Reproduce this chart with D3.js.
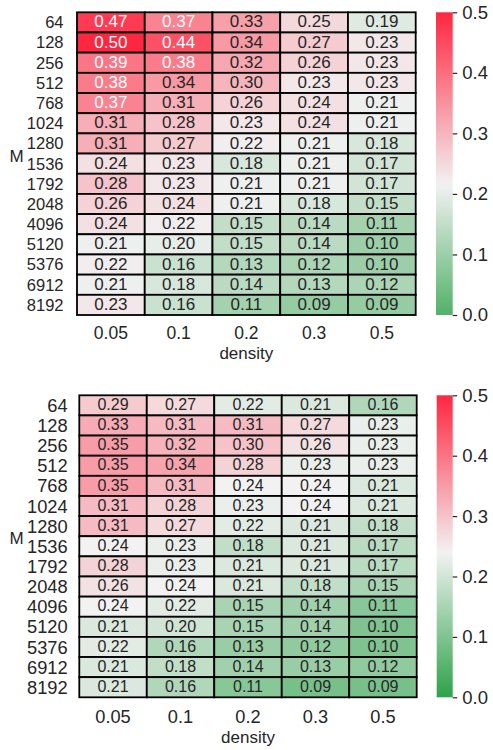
<!DOCTYPE html>
<html>
<head>
<meta charset="utf-8">
<script src="https://cdn.jsdelivr.net/npm/d3@7"></script>
<style>
  html, body { margin: 0; padding: 0; background: #ffffff; }
  svg { display: block; font-family: "Liberation Sans", Arial, Helvetica, sans-serif; }
</style>
</head>
<body>
<svg id="chart" width="493" height="750"></svg>
<script>
// Column and row categories shared by both heatmaps
const densities = ["0.05", "0.1", "0.2", "0.3", "0.5"];
const mValues = ["64", "128", "256", "512", "768", "1024", "1280", "1536",
                 "1792", "2048", "4096", "5120", "5376", "6912", "8192"];

// Upper heatmap values (rows follow mValues, columns follow densities)
const upperValues = [
  [0.47, 0.37, 0.33, 0.25, 0.19],
  [0.50, 0.44, 0.34, 0.27, 0.23],
  [0.39, 0.38, 0.32, 0.26, 0.23],
  [0.38, 0.34, 0.30, 0.23, 0.23],
  [0.37, 0.31, 0.26, 0.24, 0.21],
  [0.31, 0.28, 0.23, 0.24, 0.21],
  [0.31, 0.27, 0.22, 0.21, 0.18],
  [0.24, 0.23, 0.18, 0.21, 0.17],
  [0.28, 0.23, 0.21, 0.21, 0.17],
  [0.26, 0.24, 0.21, 0.18, 0.15],
  [0.24, 0.22, 0.15, 0.14, 0.11],
  [0.21, 0.20, 0.15, 0.14, 0.10],
  [0.22, 0.16, 0.13, 0.12, 0.10],
  [0.21, 0.18, 0.14, 0.13, 0.12],
  [0.23, 0.16, 0.11, 0.09, 0.09]
];

// Lower heatmap values
const lowerValues = [
  [0.29, 0.27, 0.22, 0.21, 0.16],
  [0.33, 0.31, 0.31, 0.27, 0.23],
  [0.35, 0.32, 0.30, 0.26, 0.23],
  [0.35, 0.34, 0.28, 0.23, 0.23],
  [0.35, 0.31, 0.24, 0.24, 0.21],
  [0.31, 0.28, 0.23, 0.24, 0.21],
  [0.31, 0.27, 0.22, 0.21, 0.18],
  [0.24, 0.23, 0.18, 0.21, 0.17],
  [0.28, 0.23, 0.21, 0.21, 0.17],
  [0.26, 0.24, 0.21, 0.18, 0.15],
  [0.24, 0.22, 0.15, 0.14, 0.11],
  [0.21, 0.20, 0.15, 0.14, 0.10],
  [0.22, 0.16, 0.13, 0.12, 0.10],
  [0.21, 0.18, 0.14, 0.13, 0.12],
  [0.21, 0.16, 0.11, 0.09, 0.09]
];

// Colour bar ticks
const colorbarTicks = [0.0, 0.1, 0.2, 0.3, 0.4, 0.5];

const vmin = 0.0, vmax = 0.5;
const textDark = "#262626";

// Diverging base palette: green -> light grey -> red, linear in RGB
const basePalette = d3.scaleLinear()
  .domain([0, 0.5, 1])
  .range(["rgb(30,155,60)", "rgb(242,242,242)", "rgb(255,38,64)"])
  .interpolate(d3.interpolateRgb)
  .clamp(true);

// Re-centre the palette around `center`, keeping the value range [vmin, vmax]
function makeColor(center) {
  const vrange = Math.max(vmax - center, center - vmin);
  const norm = d3.scaleLinear().domain([center - vrange, center + vrange]).range([0, 1]);
  return v => basePalette(norm(v));
}

function relLum(c) {
  const rgb = d3.rgb(c);
  const f = x => { x /= 255; return x <= 0.03928 ? x / 12.92 : Math.pow((x + 0.055) / 1.055, 2.4); };
  return 0.2126 * f(rgb.r) + 0.7152 * f(rgb.g) + 0.0722 * f(rgb.b);
}

const svg = d3.select("#chart");
const defs = svg.append("defs");

const panels = [
  { values: upperValues, center: 0.215,
    x0: 77, x1: 415.7, y0: 12.3, y1: 315,
    cb0: 436, cb1: 452.7,
    annotSize: 17, yTickSize: 16.5, xTickSize: 17.5, labelSize: 17, cbSize: 18.5,
    yTickGap: 13.5, xTickOffset: 24.3, xLabelOffset: 44, mLabelY: 156 },
  { values: lowerValues, center: 0.24,
    x0: 79.3, x1: 416.7, y0: 395.3, y1: 697.3,
    cb0: 436.7, cb1: 452.7,
    annotSize: 16, yTickSize: 18.3, xTickSize: 18.2, labelSize: 17, cbSize: 18.5,
    yTickGap: 11.6, xTickOffset: 26, xLabelOffset: 46, mLabelY: 538 }
];

panels.forEach((p, pi) => {
  const color = makeColor(p.center);
  const g = svg.append("g");

  const x = d3.scaleBand().domain(densities).range([p.x0, p.x1]);
  const y = d3.scaleBand().domain(mValues).range([p.y0, p.y1]);

  const cells = [];
  p.values.forEach((row, ri) => row.forEach((v, ci) => {
    cells.push({ m: mValues[ri], d: densities[ci], v: v });
  }));

  // cells
  g.selectAll("rect.cell").data(cells).join("rect")
    .attr("class", "cell")
    .attr("x", d => x(d.d))
    .attr("y", d => y(d.m))
    .attr("width", x.bandwidth())
    .attr("height", y.bandwidth())
    .attr("fill", d => color(d.v))
    .attr("stroke", "#000")
    .attr("stroke-width", 1.8);

  // annotations
  g.selectAll("text.annot").data(cells).join("text")
    .attr("class", "annot")
    .attr("x", d => x(d.d) + x.bandwidth() / 2)
    .attr("y", d => y(d.m) + y.bandwidth() / 2 + p.annotSize * 0.358 - 1)
    .attr("text-anchor", "middle")
    .attr("font-size", p.annotSize)
    .attr("fill", d => relLum(color(d.v)) > 0.408 ? textDark : "#ffffff")
    .text(d => d3.format(".2f")(d.v));

  // y tick labels
  g.selectAll("text.ytick").data(mValues).join("text")
    .attr("class", "ytick")
    .attr("x", p.x0 - p.yTickGap)
    .attr("y", d => y(d) + y.bandwidth() / 2 + p.yTickSize * 0.358)
    .attr("text-anchor", "end")
    .attr("font-size", p.yTickSize)
    .attr("fill", textDark)
    .text(d => d);

  // x tick labels
  g.selectAll("text.xtick").data(densities).join("text")
    .attr("class", "xtick")
    .attr("x", d => x(d) + x.bandwidth() / 2)
    .attr("y", p.y1 + p.xTickOffset)
    .attr("text-anchor", "middle")
    .attr("font-size", p.xTickSize)
    .attr("fill", textDark)
    .text(d => d);

  // axis titles
  g.append("text")
    .attr("x", (p.x0 + p.x1) / 2)
    .attr("y", p.y1 + p.xLabelOffset)
    .attr("text-anchor", "middle")
    .attr("font-size", p.labelSize)
    .attr("fill", textDark)
    .text("density");

  g.append("text")
    .attr("x", 16.7)
    .attr("y", p.mLabelY + p.labelSize * 0.358)
    .attr("text-anchor", "middle")
    .attr("font-size", p.labelSize)
    .attr("fill", textDark)
    .text("M");

  // colour bar
  const cy = d3.scaleLinear().domain([vmin, vmax]).range([p.y1, p.y0]);
  const gradId = "cbar" + pi;
  const grad = defs.append("linearGradient")
    .attr("id", gradId)
    .attr("x1", 0).attr("y1", 1).attr("x2", 0).attr("y2", 0);
  d3.range(0, 1.0001, 0.02).forEach(t => {
    grad.append("stop")
      .attr("offset", t)
      .attr("stop-color", color(vmin + t * (vmax - vmin)));
  });
  g.append("rect")
    .attr("x", p.cb0)
    .attr("y", cy(vmax))
    .attr("width", p.cb1 - p.cb0)
    .attr("height", cy(vmin) - cy(vmax))
    .attr("fill", `url(#${gradId})`);

  const cbAxis = d3.axisRight(cy)
    .tickValues(colorbarTicks)
    .tickFormat(d3.format(".1f"))
    .tickSize(4.5)
    .tickPadding(5);
  const ag = g.append("g")
    .attr("transform", `translate(${p.cb1},0)`)
    .call(cbAxis);
  ag.select(".domain").remove();
  ag.selectAll(".tick line").attr("stroke", textDark).attr("stroke-width", 1.2);
  ag.selectAll(".tick text")
    .attr("font-size", p.cbSize)
    .attr("font-family", "\"Liberation Sans\", Arial, sans-serif")
    .attr("fill", textDark);
});
</script>
</body>
</html>
